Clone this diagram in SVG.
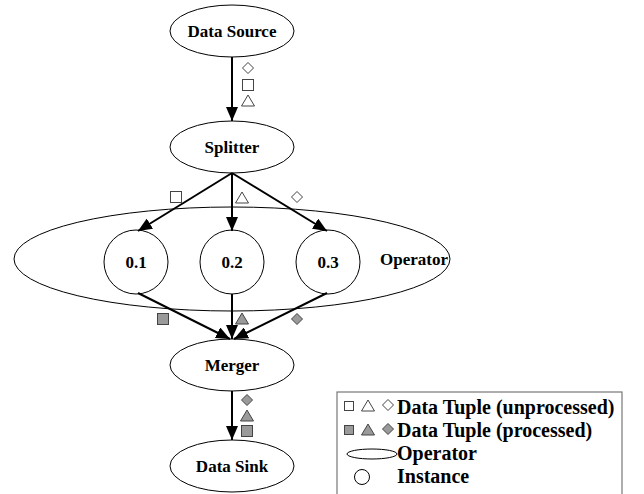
<svg xmlns="http://www.w3.org/2000/svg" width="644" height="494" viewBox="0 0 644 494">
<style>
.node{fill:#fff;stroke:#000;stroke-width:1}
.lbl{font-family:"Liberation Serif","DejaVu Serif","Noto Serif",serif;font-weight:bold;font-size:17px;fill:#000;text-anchor:middle}
.leg{font-family:"Liberation Serif","DejaVu Serif","Noto Serif",serif;font-weight:bold;font-size:20px;fill:#000}
.edge{stroke:#000;stroke-width:2;fill:none;marker-end:url(#ah)}
.u{fill:#fff;stroke:#444;stroke-width:1}
.p{fill:#9a9a9a;stroke:#444;stroke-width:1}
</style>
<defs>
<marker id="ah" markerUnits="userSpaceOnUse" markerWidth="14" markerHeight="12" viewBox="0 0 14 12" refX="14" refY="6" orient="auto">
<path d="M0,0 L14,6 L0,12 z" fill="#000"/>
</marker>
<rect id="sq" x="-5.5" y="-5.5" width="11" height="11"/>
<path id="tri" d="M0,-6 L6.5,5 L-6.5,5 z"/>
<path id="dia" d="M0,-5.5 L5.5,0 L0,5.5 L-5.5,0 z"/>
</defs>
<g id="operator">
<ellipse cx="232" cy="259" rx="218" ry="52" fill="none" stroke="#000" stroke-width="1"/>
<text class="lbl" x="414" y="265">Operator</text>
</g>
<g id="data-source">
<ellipse class="node" cx="232" cy="31" rx="62" ry="26"/>
<text class="lbl" x="232" y="37">Data Source</text>
</g>
<g id="splitter">
<ellipse class="node" cx="232" cy="147" rx="62" ry="26"/>
<text class="lbl" x="232" y="153">Splitter</text>
</g>
<g id="inst-01">
<circle class="node" cx="136" cy="262" r="32"/>
<text class="lbl" x="136" y="268">0.1</text>
</g>
<g id="inst-02">
<circle class="node" cx="232" cy="262" r="32"/>
<text class="lbl" x="232" y="268">0.2</text>
</g>
<g id="inst-03">
<circle class="node" cx="328" cy="262" r="32"/>
<text class="lbl" x="328" y="268">0.3</text>
</g>
<g id="merger">
<ellipse class="node" cx="232" cy="365" rx="62" ry="26"/>
<text class="lbl" x="232" y="371">Merger</text>
</g>
<g id="data-sink">
<ellipse class="node" cx="232" cy="466" rx="62" ry="26"/>
<text class="lbl" x="232" y="472">Data Sink</text>
</g>
<g id="connectors">
<line class="edge" x1="232" y1="57" x2="232" y2="121"/>
<line class="edge" x1="232" y1="173" x2="138" y2="231"/>
<line class="edge" x1="232" y1="173" x2="232" y2="231"/>
<line class="edge" x1="232" y1="173" x2="327" y2="231"/>
<line class="edge" x1="138" y1="293" x2="230" y2="339"/>
<line class="edge" x1="232" y1="294" x2="232" y2="339"/>
<line class="edge" x1="327" y1="293" x2="234" y2="339"/>
<line class="edge" x1="232" y1="391" x2="232" y2="440"/>
</g>
<g id="tuples">
<use href="#dia" class="u" x="248" y="68"/>
<use href="#sq" class="u" x="248" y="85"/>
<use href="#tri" class="u" x="248" y="101"/>
<use href="#sq" class="u" x="176" y="197"/>
<use href="#tri" class="u" x="242" y="198"/>
<use href="#dia" class="u" x="297" y="197"/>
<use href="#sq" class="p" x="163" y="319"/>
<use href="#tri" class="p" x="242" y="319"/>
<use href="#dia" class="p" x="297" y="319"/>
<use href="#dia" class="p" x="247" y="400"/>
<use href="#tri" class="p" x="247" y="416"/>
<use href="#sq" class="p" x="247" y="431"/>
</g>
<g id="legend">
<rect x="337" y="392" width="285" height="110" fill="#fff" stroke="#777" stroke-width="1.2"/>
<rect x="344.5" y="401.5" width="9" height="9" class="u"/>
<use href="#tri" class="u" x="368" y="406"/>
<use href="#dia" class="u" x="388" y="405"/>
<text class="leg" x="397" y="414">Data Tuple (unprocessed)</text>
<rect x="344.5" y="425.5" width="9" height="9" class="p"/>
<use href="#tri" class="p" x="368" y="430"/>
<use href="#dia" class="p" x="388" y="429"/>
<text class="leg" x="397" y="437">Data Tuple (processed)</text>
<ellipse cx="372" cy="454" rx="25" ry="5" fill="#fff" stroke="#000" stroke-width="1"/>
<text class="leg" x="397" y="460">Operator</text>
<circle cx="362" cy="477" r="7.5" fill="#fff" stroke="#000" stroke-width="1"/>
<text class="leg" x="397" y="483">Instance</text>
</g>
</svg>
